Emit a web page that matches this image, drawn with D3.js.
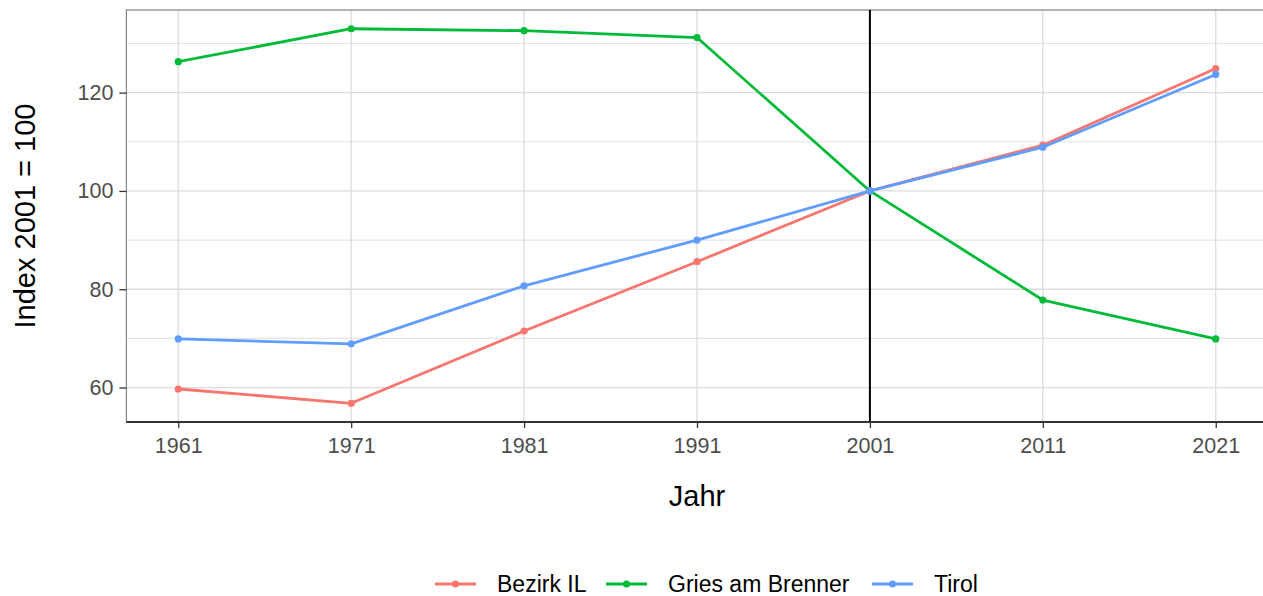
<!DOCTYPE html>
<html>
<head>
<meta charset="utf-8">
<script src="https://cdn.jsdelivr.net/npm/d3@7"></script>
<style>
  body { margin: 0; background: #fff; }
  svg { display: block; font-family: "Liberation Sans", Arial, sans-serif; }
</style>
</head>
<body>
<script>
// data
let years = [1961, 1971, 1981, 1991, 2001, 2011, 2021];
let seriesNames = ["Bezirk IL", "Gries am Brenner", "Tirol"];
let bezirkIL = [59.7, 56.8, 71.5, 85.6, 100, 109.3, 124.9];
let gries = [126.3, 133.0, 132.6, 131.2, 100, 77.8, 69.9];
let tirol = [69.9, 68.9, 80.7, 90.0, 100, 108.9, 123.7];
let yTicks = [60, 80, 100, 120];
let yMinor = [70, 90, 110, 130];
let colors = ["#F8766D", "#00BA38", "#619CFF"];
let refYear = 2001;

let w = 1263, h = 596;
let padL = 126.4, padR = 1267.6, padT = 10, padB = 422;

let allSeries = [bezirkIL, gries, tirol];
let allVals = allSeries.flat();

let svg = d3.select("body").append("svg")
  .attr("width", w)
  .attr("height", h);

// ggplot style 5% expansion
let xr = d3.extent(years), xe = (xr[1] - xr[0]) * 0.05;
let yr = d3.extent(allVals), ye = (yr[1] - yr[0]) * 0.05;

let xScale = d3.scaleLinear()
  .domain([xr[0] - xe, xr[1] + xe])
  .range([padL, padR]);

let yScale = d3.scaleLinear()
  .domain([yr[0] - ye, yr[1] + ye])
  .range([padB, padT]);

// grid
let grid = svg.append("g");
grid.selectAll(".ymin").data(yMinor).enter().append("line")
  .attr("x1", padL).attr("x2", padR)
  .attr("y1", d => yScale(d)).attr("y2", d => yScale(d))
  .attr("stroke", "#e3e3e3").attr("stroke-width", 1.1);
grid.selectAll(".ymaj").data(yTicks).enter().append("line")
  .attr("x1", padL).attr("x2", padR)
  .attr("y1", d => yScale(d)).attr("y2", d => yScale(d))
  .attr("stroke", "#dcdcdc").attr("stroke-width", 1.3);
grid.selectAll(".xmaj").data(years).enter().append("line")
  .attr("y1", padT).attr("y2", padB)
  .attr("x1", d => xScale(d)).attr("x2", d => xScale(d))
  .attr("stroke", "#dcdcdc").attr("stroke-width", 1.3);

// panel border
svg.append("rect")
  .attr("x", padL).attr("y", padT)
  .attr("width", padR - padL).attr("height", padB - padT)
  .attr("fill", "none").attr("stroke", "#8a8a8a").attr("stroke-width", 1.3);

// reference line at 2001
svg.append("line")
  .attr("x1", xScale(refYear)).attr("x2", xScale(refYear))
  .attr("y1", padT).attr("y2", padB)
  .attr("stroke", "#000").attr("stroke-width", 2);

// series
let line = d3.line()
  .x((d, i) => xScale(years[i]))
  .y(d => yScale(d));

allSeries.forEach((s, k) => {
  svg.append("path")
    .datum(s)
    .attr("d", line)
    .attr("fill", "none")
    .attr("stroke", colors[k])
    .attr("stroke-width", 2.8)
    .attr("stroke-linejoin", "round");
  svg.selectAll(".pt" + k).data(s).enter().append("circle")
    .attr("cx", (d, i) => xScale(years[i]))
    .attr("cy", d => yScale(d))
    .attr("r", 3.6)
    .attr("fill", colors[k]);
});

// axes
let xAxis = d3.axisBottom(xScale)
  .tickValues(years)
  .tickFormat(d3.format("d"))
  .tickSize(6)
  .tickPadding(10);

let gx = svg.append("g")
  .attr("transform", "translate(0," + padB + ")")
  .call(xAxis);
gx.select(".domain").remove();
gx.append("line")
  .attr("x1", padL).attr("x2", padR)
  .attr("stroke", "#333").attr("stroke-width", 1.8);
gx.selectAll(".tick line").attr("stroke", "#333").attr("stroke-width", 1.3);
gx.selectAll(".tick text")
  .attr("fill", "#4d4d4d")
  .style("font-size", "21.5px");

let yAxis = d3.axisLeft(yScale)
  .tickValues(yTicks)
  .tickSize(7)
  .tickPadding(6);

let gy = svg.append("g")
  .attr("transform", "translate(" + padL + ",0)")
  .call(yAxis);
gy.select(".domain").remove();
gy.selectAll(".tick line").attr("stroke", "#333").attr("stroke-width", 1.3);
gy.selectAll(".tick text")
  .attr("fill", "#4d4d4d")
  .style("font-size", "21.5px");

// axis titles
svg.append("text")
  .attr("x", (padL + padR) / 2)
  .attr("y", 506)
  .attr("text-anchor", "middle")
  .style("font-size", "29px")
  .text("Jahr");

svg.append("text")
  .attr("transform", "translate(35," + ((padT + padB) / 2) + ") rotate(-90)")
  .attr("text-anchor", "middle")
  .style("font-size", "29px")
  .text("Index 2001 = 100");

// legend
let legendX = [435, 606, 872];
let legendY = 584;
let legend = svg.selectAll(".legend")
  .data(seriesNames)
  .enter().append("g")
  .attr("class", "legend")
  .attr("transform", (d, i) => "translate(" + legendX[i] + "," + legendY + ")");

legend.append("line")
  .attr("x1", 0).attr("x2", 41)
  .attr("stroke", (d, i) => colors[i])
  .attr("stroke-width", 3);
legend.append("circle")
  .attr("cx", 20.5).attr("r", 3.6)
  .attr("fill", (d, i) => colors[i]);
legend.append("text")
  .attr("x", 62)
  .attr("dy", "0.35em")
  .style("font-size", "23px")
  .text(d => d);
</script>
</body>
</html>
